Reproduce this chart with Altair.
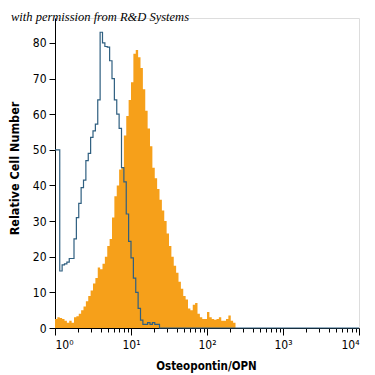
import altair as alt
import pandas as pd

# histogram bin resolution (bins per decade on the log axis)
bins_per_decade = 32

# isotype control (blue outline), counts per bin starting at 10^0
blue_counts = [50, 50, 16, 17.7, 18, 18.5, 19.5, 19.5, 25, 31, 35, 39.4, 41.5, 47,
               49, 53.5, 55.3, 57.2, 64, 83, 80, 79, 78.8, 75, 70, 64, 60, 56, 45,
               41, 32, 24.3, 19.7, 14, 10, 5.5, 2.2, 1, 1, 1.5, 1, 1.5, 1, 1]

# Osteopontin/OPN stained (orange filled), counts per bin starting at 10^0
orange_counts = [2.5, 3, 2.8, 2.5, 2, 1.5, 2, 1.5, 3, 3.3, 4, 5, 6, 7.5, 9, 10.5,
                 12.5, 14, 17, 16.5, 18, 20, 23, 25, 31, 37, 40, 44.5, 45, 54,
                 59.5, 64, 69, 77, 78, 76, 73, 67, 61, 56, 51, 45, 42, 39, 36, 33,
                 30, 26.5, 23, 20, 17.5, 15.5, 13, 11, 9, 8, 5.5, 5, 6.5, 7, 4, 3,
                 2.5, 2.5, 4.5, 3, 2.5, 2.3, 2.5, 3, 2, 2, 2.5, 3.5, 2, 1.5]

major_ticks = [1, 10, 100, 1000, 10000]
major_labels = ["10⁰", "10¹", "10²", "10³", "10⁴"]
minor_ticks = [m * 10 ** k for k in range(4) for m in range(2, 10)]
y_ticks = [0, 10, 20, 30, 40, 50, 60, 70, 80]

x_title = "Osteopontin/OPN"
y_title = "Relative Cell Number"
note = "with permission from R&D Systems"


def step_rows(counts, extend_to=None):
    rows = [{"x": 10 ** (i / bins_per_decade), "y": c} for i, c in enumerate(counts)]
    rows.append({"x": 10 ** (len(counts) / bins_per_decade), "y": 0})
    if extend_to is not None:
        rows.append({"x": extend_to, "y": 0})
    return rows


blue_df = pd.DataFrame(step_rows(blue_counts, extend_to=10000))
orange_df = pd.DataFrame(step_rows(orange_counts))

label_expr = " : ".join(
    f"datum.value == {v} ? '{l}'" for v, l in zip(major_ticks, major_labels)
) + " : ''"

FONT = "DejaVu Sans Condensed, Liberation Sans Narrow, Liberation Sans, sans-serif"

x_scale = alt.Scale(type="log", domain=[1, 10000], nice=False)
y_scale = alt.Scale(domain=[0, 87], nice=False)

y_axis = alt.Axis(values=y_ticks, tickSize=6, labelPadding=3, grid=False,
                  labelOverlap=False, tickCount=9,
                  labelFont=FONT, labelFontSize=12, labelColor="black",
                  title=y_title, titleFont=FONT, titleFontSize=12.5,
                  titleFontWeight="bold", titleColor="black",
                  titleX=-34, titleY=150, titleAngle=270,
                  titleAlign="center", titleBaseline="bottom",
                  domainColor="black", tickColor="black")

major_axis = alt.Axis(values=major_ticks, labelExpr=label_expr, tickSize=7,
                      labelPadding=4, grid=False, orient="bottom",
                      labelOverlap=False,
                      labelFont=FONT, labelFontSize=12, labelColor="black",
                      title=x_title, titleFont=FONT, titleFontSize=11.5,
                      titleFontWeight="bold", titleColor="black",
                      titleX=151, titleY=41, titleAlign="center",
                      titleBaseline="alphabetic",
                      domainColor="black", tickColor="black")

minor_axis = alt.Axis(values=minor_ticks, labels=False, tickSize=4, grid=False,
                      orient="bottom", domain=False, title=None,
                      tickColor="black")

orange = alt.Chart(orange_df).mark_area(
    interpolate="step-after", color="#F6A01A", opacity=1
).encode(
    x=alt.X("x:Q", scale=x_scale, axis=major_axis),
    y=alt.Y("y:Q", scale=y_scale, axis=y_axis),
)

blue = alt.Chart(blue_df).mark_line(
    interpolate="step-after", color="#2F5F80", strokeWidth=1.2
).encode(
    x=alt.X("x:Q", scale=x_scale, axis=minor_axis),
    y=alt.Y("y:Q", scale=y_scale, axis=y_axis),
)

chart = alt.layer(orange, blue).resolve_axis(x="independent").properties(
    width=304,
    height=310,
    autosize=alt.AutoSizeParams(type="none"),
    padding={"left": 55, "top": 18, "right": 16, "bottom": 47},
    title=alt.TitleParams(note, anchor="start", frame="group", dx=-44,
                          dy=15, offset=0, baseline="alphabetic",
                          font="Liberation Serif", fontStyle="italic",
                          fontWeight="normal", fontSize=12.5, color="black"),
).configure_view(stroke=None).configure(background="white")

chart.save("out.html", embed_options={"renderer": "svg", "actions": False})
